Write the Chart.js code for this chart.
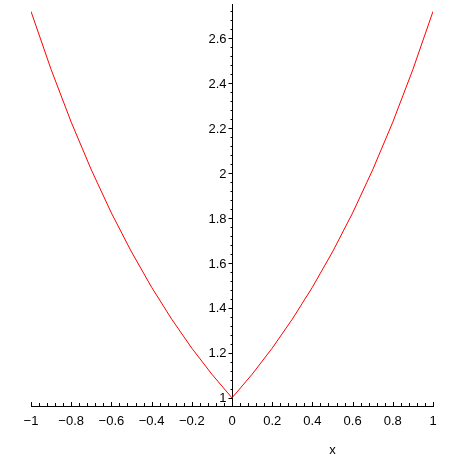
<!DOCTYPE html>
<html>
<head>
<meta charset="utf-8">
<script src="https://cdn.jsdelivr.net/npm/chart.js@4/dist/chart.umd.min.js"></script>
<style>
  body { margin: 0; background: #fff; }
  canvas { display: block; }
</style>
</head>
<body>
<canvas id="grafico" width="459" height="459"></canvas>
<script>
// valores (curva vermelha)
var xValores = [-1, -0.9, -0.8, -0.7, -0.6, -0.5, -0.4, -0.3, -0.2, -0.1, 0,
                0.1, 0.2, 0.3, 0.4, 0.5, 0.6, 0.7, 0.8, 0.9, 1];
var yValores = [2.718, 2.460, 2.226, 2.014, 1.822, 1.649, 1.492, 1.350, 1.221, 1.105, 1.0,
                1.105, 1.221, 1.350, 1.492, 1.649, 1.822, 2.014, 2.226, 2.460, 2.718];

// marcas dos eixos
var xTicks = [-1, -0.8, -0.6, -0.4, -0.2, 0, 0.2, 0.4, 0.6, 0.8, 1];
var yTicks = [1, 1.2, 1.4, 1.6, 1.8, 2, 2.2, 2.4, 2.6];

var pontos = xValores.map(function (x, i) { return { x: x, y: yValores[i] }; });

var familia = 'Liberation Sans, Arial, sans-serif';

function rotulo(v) {
  var s = String(Math.round(v * 10) / 10);
  return s.replace('-', '\u2212');
}

// tracinhos, rotulos dos eixos e o titulo "x"
var marcasPlugin = {
  id: 'marcas',
  afterDraw: function (chart) {
    var ctx = chart.ctx;
    var xs = chart.scales.x, ys = chart.scales.y;
    var eixoY = Math.round(xs.getPixelForValue(0)) + 0.5;
    var eixoX = chart.chartArea.bottom;
    ctx.save();
    ctx.strokeStyle = '#000';
    ctx.lineWidth = 1;
    ctx.beginPath();
    for (var i = 0; i <= 50; i++) {
      var v = -1 + i * 0.04;
      var px = Math.round(xs.getPixelForValue(v)) + 0.5;
      var len = (i % 5 === 0) ? 4 : 3;
      ctx.moveTo(px, eixoX);
      ctx.lineTo(px, eixoX - len);
    }
    for (var j = 0; j <= 44; j++) {
      var w = 1 + j * 0.04;
      if (w > ys.max) break;
      var py = Math.round(ys.getPixelForValue(w)) + 0.5;
      var len2 = (j % 5 === 0) ? 4 : 2;
      ctx.moveTo(eixoY, py);
      ctx.lineTo(eixoY - len2, py);
    }
    ctx.stroke();

    ctx.fillStyle = '#000';
    ctx.font = '13px ' + familia;
    ctx.textBaseline = 'middle';

    ctx.textAlign = 'center';
    xTicks.forEach(function (t) {
      ctx.fillText(rotulo(t), xs.getPixelForValue(t), eixoX + 15);
    });

    ctx.textAlign = 'right';
    yTicks.forEach(function (t) {
      ctx.fillText(rotulo(t), eixoY - 6, ys.getPixelForValue(t) + 1);
    });

    ctx.textAlign = 'center';
    ctx.fillText('x', xs.getPixelForValue(0.5), 450);
    ctx.restore();
  }
};

var grafico = new Chart(document.getElementById('grafico').getContext('2d'), {
  type: 'scatter',
  data: {
    datasets: [{
      data: pontos,
      showLine: true,
      borderColor: '#ff0000',
      borderWidth: 1,
      pointRadius: 0,
      tension: 0
    }]
  },
  options: {
    responsive: false,
    animation: false,
    layout: { padding: { left: 31, right: 26, top: 4, bottom: 53 } },
    plugins: {
      legend: { display: false },
      tooltip: { enabled: false }
    },
    scales: {
      x: {
        type: 'linear',
        position: 'bottom',
        min: -1,
        max: 1,
        afterFit: function (s) { s.height = 0; },
        grid: { display: false },
        border: { display: true, color: '#000', width: 1 },
        ticks: { display: false }
      },
      y: {
        type: 'linear',
        position: { x: 0 },
        min: 0.964,
        max: 2.751,
        afterFit: function (s) { s.width = 0; },
        grid: { display: false },
        border: { display: true, color: '#000', width: 1 },
        ticks: { display: false }
      }
    }
  },
  plugins: [marcasPlugin]
});
</script>
</body>
</html>
